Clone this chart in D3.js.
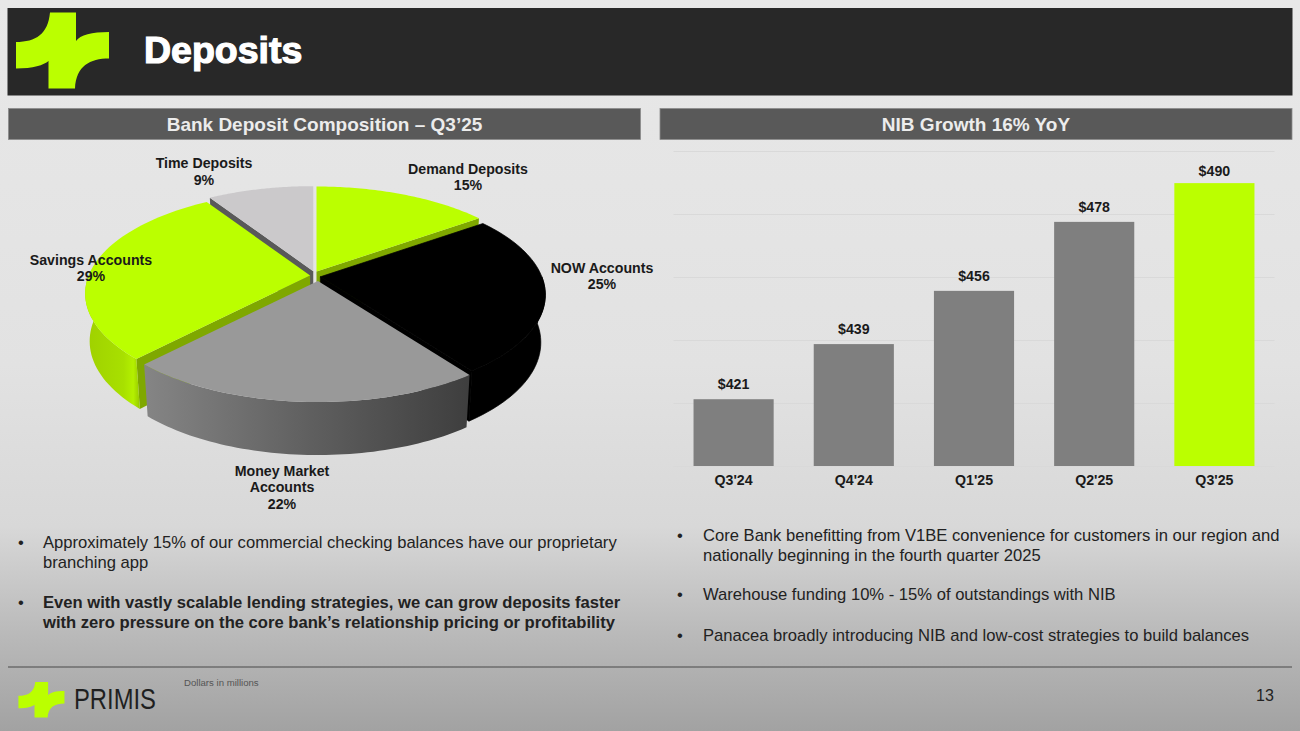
<!DOCTYPE html>
<html><head><meta charset="utf-8">
<script src="https://cdn.jsdelivr.net/npm/d3@7"></script>
<style>html,body{margin:0;padding:0;background:#e6e6e6;overflow:hidden}text{font-family:"Liberation Sans",Arial,sans-serif}</style>
</head><body><svg id="c" width="1300" height="731"></svg>
<script>
// ---- data ----
const pieCategories = ["Demand Deposits","NOW Accounts","Money Market Accounts","Savings Accounts","Time Deposits"];
const pieValues = [15,25,22,29,9];
const barCategories = ["Q3'24","Q4'24","Q1'25","Q2'25","Q3'25"];
const barValues = [421.2,438.7,455.6,477.5,489.8];
const barLabels = ["$421","$439","$456","$478","$490"];
const leftBullets = [
 {lines:["Approximately 15% of our commercial checking balances have our proprietary","branching app"],bold:false},
 {lines:["Even with vastly scalable lending strategies, we can grow deposits faster","with zero pressure on the core bank’s relationship pricing or profitability"],bold:true}];
const rightBullets = [
 {lines:["Core Bank benefitting from V1BE convenience for customers in our region and","nationally beginning in the fourth quarter 2025"]},
 {lines:["Warehouse funding 10% - 15% of outstandings with NIB"]},
 {lines:["Panacea broadly introducing NIB and low-cost strategies to build balances"]}];

// ---- layout / style ----
const LIME="#bbff00";
const svg=d3.select("#c");
const defs=svg.append("defs");
function grad(id,stops,x2=1,y2=0){
  const g=defs.append("linearGradient").attr("id",id).attr("x1",0).attr("y1",0).attr("x2",x2).attr("y2",y2);
  stops.forEach(([o,c])=>g.append("stop").attr("offset",o).attr("stop-color",c));
}
grad("bg",[[0,"#e8e8e8"],[.5,"#e2e2e2"],[.72,"#d8d8d8"],[.87,"#b9b9b9"],[1,"#a2a2a2"]],0,1);
grad("mmWall",[[0,"#858585"],[.5,"#606060"],[1,"#3e3e3e"]]);
grad("savWall",[[0,"#9fd000"],[.7,"#a8e000"],[.88,"#b4f000"],[1,"#96c800"]]);
svg.append("rect").attr("width",1300).attr("height",731).attr("fill","url(#bg)");

// header
svg.append("rect").attr("x",7.5).attr("y",8).attr("width",1285).attr("height",87.5).attr("fill","#282828");
const logoPath="M50 12.5L76 12.5L76 41C80 35 92 32 109 32L109 58.5C90 58.5 76 66 75 88.5L48.5 88.5L48.5 61C44 65 33 68.5 16 68.5L16 42C36 42 48 34 50 12.5Z";
svg.append("path").attr("d",logoPath).attr("fill",LIME);
svg.append("text").attr("x",144).attr("y",63).attr("font-size",37.5).attr("font-weight",700).attr("fill","#fff").attr("stroke","#fff").attr("stroke-width",1.2).text("Deposits");

// sub headers
[[8.5,632,"Bank Deposit Composition – Q3’25"],[660,632,"NIB Growth 16% YoY"]].forEach(([x,w,t])=>{
  svg.append("rect").attr("x",x).attr("y",108.5).attr("width",w).attr("height",31).attr("fill","#595959").attr("stroke","#8c8c8c").attr("stroke-width",.8);
  svg.append("text").attr("x",x+w/2).attr("y",130.5).attr("text-anchor","middle").attr("font-size",19).attr("font-weight",700).attr("fill","#ececec").text(t);
});

// ---- 3D pie ----
const P={cx:314.5,cy:276,rx:221.5,b:99.9,p:.1747,ex:4.4,ey:5,shrink:.98};
const nudgeX=[0,1.5,3.7,0,0];
const extraH=[0,0,2,0,0];
const slices=d3.pie().sort(null).value(d=>d).startAngle(0).endAngle(2*Math.PI)(pieValues);
function proj(X,Y){const s=1/(1-P.p*Y);return [X*P.rx*s,Y*P.b*s];}
function topPt(i,a,r,mid){
  const [x,y]=proj(r*Math.sin(a),-r*Math.cos(a));
  return [P.cx+nudgeX[i]+P.ex*Math.sin(mid)+x, P.cy-P.ey*Math.cos(mid)+y];
}
function botPt(i,a,r,mid){
  const Y=-r*Math.cos(a);
  const [x,y]=proj(r*Math.sin(a),Y);
  return [P.cx+nudgeX[i]+P.ex*Math.sin(mid)+x*P.shrink, P.cy-P.ey*Math.cos(mid)+y+47+extraH[i]+4*Y];
}
const lineGen=d3.line();
const faceCol=[LIME,"#000000","#999999",LIME,"#cbc9cb"];
const wallCol=[LIME,"#000000","url(#mmWall)","url(#savWall)","#bdbbbd"];
const cutCol=["#7fa800","#000000","#666666","#7fa800","#595959"];
const order=[4,0,3,1,2];
const pieG=svg.append("g");
function piece(pts,fill,isBlack){
  pieG.append("path").attr("d",lineGen(pts)+"Z").attr("fill",fill)
    .attr("stroke",isBlack?"#000":"none").attr("stroke-width",isBlack?.7:0);
}
order.forEach(i=>{
  const s=slices[i], mid=(s.startAngle+s.endAngle)/2, blk=faceCol[i]==="#000000";
  const angs=d3.range(0,61).map(k=>s.startAngle+(s.endAngle-s.startAngle)*k/60);
  const arcTop=angs.map(a=>topPt(i,a,1,mid));
  const a0=topPt(i,0,0,mid), b0=botPt(i,0,0,mid);
  // cut faces, only those turned toward the viewer
  if(Math.sin(s.startAngle)<-1e-6) piece([a0,topPt(i,s.startAngle,1,mid),botPt(i,s.startAngle,1,mid),b0],cutCol[i],blk);
  if(Math.sin(s.endAngle)>1e-6) piece([a0,topPt(i,s.endAngle,1,mid),botPt(i,s.endAngle,1,mid),b0],cutCol[i],blk);
  // outer wall, only the near half
  const near=angs.filter(a=>-Math.cos(a)>=-.02);
  if(near.length>1) piece(near.map(a=>topPt(i,a,1,mid)).concat(near.map(a=>botPt(i,a,1,mid)).reverse()),wallCol[i],blk);
  piece([a0].concat(arcTop),faceCol[i],blk);
});
const pieLabels=[
 {c:0,x:468,y:[174,190],split:["Demand Deposits"]},
 {c:1,x:602,y:[273,289],split:["NOW Accounts"]},
 {c:2,x:282,y:[476,492,509],split:["Money Market","Accounts"]},
 {c:3,x:91,y:[265,281],split:["Savings Accounts"]},
 {c:4,x:204,y:[168,185],split:["Time Deposits"]}];
pieLabels.forEach(l=>{
  const t=svg.append("text").attr("text-anchor","middle").attr("font-size",14.2).attr("font-weight",700).attr("fill","#1a1a1a");
  l.split.concat([pieValues[l.c]+"%"]).forEach((s,j)=>t.append("tspan").attr("x",l.x).attr("y",l.y[j]).text(s));
});

// ---- bars ----
const x=d3.scaleBand().domain(barCategories).range([673.5,1274.5]).paddingInner(1/3).paddingOuter(1/6);
const y=d3.scaleLinear().domain([400,500]).range([466,151]);
const grid=svg.append("g").attr("transform","translate(673.5,0)")
  .call(d3.axisLeft(y).tickValues([400,420,440,460,480,500]).tickSize(-601).tickFormat(""));
grid.select(".domain").remove();
grid.selectAll("line").attr("stroke","#d9d9d9").attr("stroke-width",1);
svg.append("g").selectAll("rect").data(barValues).join("rect")
  .attr("x",(d,i)=>x(barCategories[i])).attr("width",x.bandwidth())
  .attr("y",d=>y(d)).attr("height",d=>y(400)-y(d))
  .attr("fill",(d,i)=>i===barValues.length-1?LIME:"#7f7f7f");
svg.append("g").selectAll("text").data(barValues).join("text")
  .attr("x",(d,i)=>x(barCategories[i])+x.bandwidth()/2).attr("y",d=>Math.max(y(d)-10,176))
  .attr("text-anchor","middle").attr("font-size",14.2).attr("font-weight",700).attr("fill","#1a1a1a")
  .text((d,i)=>barLabels[i]);
const xa=svg.append("g").attr("transform","translate(0,466)").call(d3.axisBottom(x).tickSize(0).tickPadding(9));
xa.select(".domain").remove();
xa.selectAll("text").attr("font-size",14.2).attr("font-weight",700).attr("fill","#1a1a1a").style("font-family",'"Liberation Sans",Arial,sans-serif');

// ---- bullets ----
function bullets(list,bx,tx,ys){
  let n=0;
  list.forEach(b=>{
    svg.append("text").attr("x",bx).attr("y",ys[n]).attr("font-size",16.6).attr("fill","#222").text("•");
    b.lines.forEach(l=>{
      svg.append("text").attr("x",tx).attr("y",ys[n++]).attr("font-size",16.6).attr("font-weight",b.bold?700:400).attr("fill","#222").text(l);
    });
  });
}
bullets(leftBullets,18,43,[548,568,608,628]);
bullets(rightBullets,677,703,[541,561,600,641]);

// ---- footer ----
svg.append("line").attr("x1",8).attr("x2",1292).attr("y1",667).attr("y2",667).attr("stroke","#4a4a4a").attr("stroke-width",1.2);
svg.append("path").attr("d",logoPath).attr("fill",LIME).attr("transform","translate(10.5,676) scale(.495,.47)");
svg.append("text").attr("x",74).attr("y",709).attr("font-size",30).attr("textLength",82).attr("lengthAdjust","spacingAndGlyphs").attr("fill","#1f1f1f").text("PRIMIS");
svg.append("text").attr("x",184).attr("y",686).attr("font-size",9.6).attr("fill","#555").text("Dollars in millions");
svg.append("text").attr("x",1256).attr("y",701).attr("font-size",16).attr("fill","#222").text("13");
</script></body></html>
